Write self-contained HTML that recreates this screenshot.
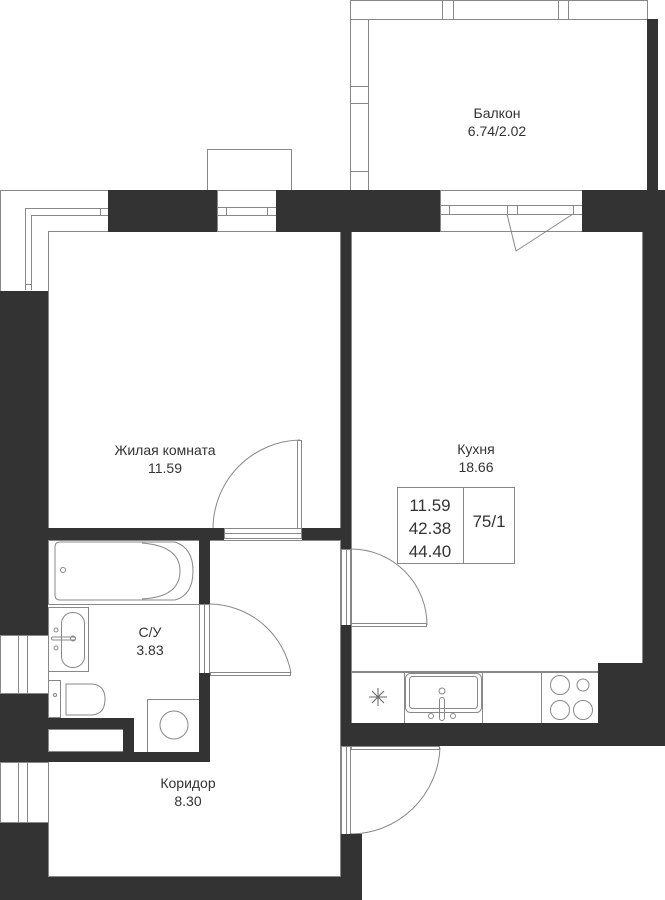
<!DOCTYPE html>
<html><head><meta charset="utf-8"><style>
html,body{margin:0;padding:0;background:#fff;}
svg{display:block;}
text{font-family:"Liberation Sans",sans-serif;fill:#333;font-size:14px;text-anchor:middle;}
text.big{font-size:17px;}
</style></head><body>
<svg width="665" height="900" viewBox="0 0 665 900" xmlns="http://www.w3.org/2000/svg">
<g fill="none" stroke="#888" stroke-width="1">
<!-- balcony -->
<rect x="350.5" y="0.5" width="297" height="190"/>
<line x1="350" y1="19.5" x2="647" y2="19.5"/>
<line x1="368.5" y1="19" x2="368.5" y2="190"/>
<line x1="442.5" y1="0" x2="442.5" y2="19"/><line x1="453.5" y1="0" x2="453.5" y2="19"/>
<line x1="558.5" y1="0" x2="558.5" y2="19"/><line x1="568.5" y1="0" x2="568.5" y2="19"/>
<line x1="350" y1="86.5" x2="368" y2="86.5"/><line x1="350" y1="103.5" x2="368" y2="103.5"/>
<line x1="350" y1="171.5" x2="368" y2="171.5"/>
<!-- small box -->
<rect x="207.5" y="149.5" width="84" height="41"/>
<!-- left L window -->
<path d="M0.5 292 V190.5 H108 M48.5 292 V231.5 H108"/>
<path d="M25.5 290 V208.5 H108 M31.5 290 V215.5 H108"/>
<line x1="25" y1="284.5" x2="31" y2="284.5"/><line x1="100.5" y1="208" x2="100.5" y2="215"/>
<!-- window top middle -->
<rect x="217.5" y="190.5" width="59" height="41"/>
<line x1="217" y1="207.5" x2="276" y2="207.5"/><line x1="217" y1="215.5" x2="276" y2="215.5"/>
<line x1="226.5" y1="207" x2="226.5" y2="215"/><line x1="267.5" y1="207" x2="267.5" y2="215"/>
<!-- kitchen window/door -->
<rect x="440.5" y="190.5" width="142" height="41"/>
<line x1="440" y1="205.5" x2="582" y2="205.5"/><line x1="440" y1="214.5" x2="582" y2="214.5"/>
<line x1="449.5" y1="205" x2="449.5" y2="214"/><line x1="507.5" y1="205" x2="507.5" y2="214"/>
<line x1="517.5" y1="205" x2="517.5" y2="214"/><line x1="573.5" y1="205" x2="573.5" y2="214"/>
<path d="M507 214 L516 251 L573 214"/>
<!-- left windows lower -->
<rect x="0.5" y="635.5" width="48" height="58"/><line x1="18.5" y1="635" x2="18.5" y2="694"/><line x1="27.5" y1="635" x2="27.5" y2="694"/>
<rect x="0.5" y="762.5" width="48" height="60"/><line x1="18.5" y1="762" x2="18.5" y2="823"/><line x1="27.5" y1="762" x2="27.5" y2="823"/>
<!-- room outlines -->
<rect x="48.5" y="231.5" width="292" height="297"/>
<rect x="351.5" y="231.5" width="291" height="440"/>
<path d="M48.5 762 V876.5 H340.5 V540"/>
<line x1="210" y1="540.5" x2="341" y2="540.5"/>
<!-- door living -->
<rect x="224.5" y="528.5" width="77" height="10"/><line x1="224" y1="533.5" x2="302" y2="533.5"/>
<rect x="297.5" y="440.5" width="4" height="88"/>
<path d="M213 528 A89 89 0 0 1 300 440"/>
<!-- bath door -->
<rect x="199.5" y="604.5" width="10" height="69"/><line x1="204.5" y1="604" x2="204.5" y2="673"/>
<rect x="210.5" y="672.5" width="80" height="3"/>
<path d="M210 604 A84 84 0 0 1 291 673"/>
<!-- kitchen door -->
<rect x="341.5" y="549.5" width="9" height="76"/><line x1="346.5" y1="549" x2="346.5" y2="625"/>
<rect x="351.5" y="623.5" width="75" height="3"/>
<path d="M351 549 A76 76 0 0 1 427 625"/>
<!-- corridor door -->
<rect x="341.5" y="746.5" width="9" height="88"/><line x1="346.5" y1="746" x2="346.5" y2="834"/>
<rect x="351.5" y="746.5" width="88" height="3"/>
<path d="M440 748 A90 90 0 0 1 351 834"/>
<!-- bathtub -->
<rect x="48.5" y="540.5" width="151" height="64"/>
<path d="M60 542 H175 Q193 548 193 571 Q193 595 175 600 H60 Q55 600 55 595 V547 Q55 542 60 542 Z"/>
<path d="M142 543 Q180 546 180 571 Q180 597 142 599"/>
<circle cx="63" cy="570" r="2.5"/>
<!-- sink bath -->
<rect x="48.5" y="607.5" width="40" height="64"/>
<rect x="61.5" y="612.5" width="23" height="55" rx="11"/>
<circle cx="56" cy="630" r="2"/><circle cx="56" cy="648" r="2"/>
<rect x="51.5" y="637" width="24" height="3" rx="1.5"/><circle cx="73" cy="638.5" r="2.5"/>
<!-- toilet -->
<rect x="48.5" y="680.5" width="12" height="37"/>
<path d="M66 684 H92 Q105 685 105 699 Q105 714 92 715 H66 Z"/>
<circle cx="55" cy="695" r="1.5"/>
<!-- washer -->
<rect x="147.5" y="699.5" width="52" height="53"/>
<circle cx="174" cy="725" r="14"/>
<rect x="48.5" y="729.5" width="75" height="22"/>
<!-- kitchen counter -->
<rect x="351.5" y="672.5" width="247" height="51"/>
<line x1="404.5" y1="672" x2="404.5" y2="723"/><line x1="482.5" y1="672" x2="482.5" y2="723"/><line x1="541.5" y1="672" x2="541.5" y2="723"/>
<rect x="405.5" y="673.5" width="76" height="39" rx="5"/>
<rect x="409.5" y="676.5" width="68" height="32" rx="3"/>
<circle cx="442" cy="691" r="3"/><rect x="439.5" y="697.5" width="5" height="23" rx="2.5"/>
<circle cx="431" cy="716" r="2.5"/><circle cx="453" cy="716" r="2.5"/>
<circle cx="560" cy="685" r="9.5"/><circle cx="583" cy="685" r="6"/>
<circle cx="560" cy="710" r="9.5"/><circle cx="583" cy="710" r="9.5"/>
<path d="M369 697 H387 M378 688 V706 M372 691 L384 703 M384 691 L372 703" stroke="#666"/>
<!-- info box -->
<rect x="397.5" y="487.5" width="117" height="76"/><line x1="463.5" y1="487" x2="463.5" y2="564"/>
</g>
<g fill="#333">
<rect x="108" y="190" width="109" height="42"/>
<rect x="276" y="190" width="164" height="42"/>
<rect x="582" y="190" width="83" height="42"/>
<rect x="647" y="19" width="11" height="172"/>
<rect x="643" y="231" width="22" height="433"/>
<rect x="598" y="663" width="67" height="83"/>
<rect x="341" y="723" width="324" height="23"/>
<rect x="341" y="231" width="10" height="318"/>
<rect x="341" y="625" width="10" height="121"/>
<rect x="341" y="834" width="21" height="66"/>
<rect x="0" y="291" width="48" height="344"/>
<rect x="0" y="694" width="48" height="68"/>
<rect x="0" y="823" width="48" height="77"/>
<rect x="0" y="877" width="362" height="23"/>
<rect x="48" y="528" width="176" height="12"/>
<rect x="302" y="528" width="39" height="12"/>
<rect x="199" y="540" width="11" height="64"/>
<rect x="199" y="673" width="11" height="89"/>
<rect x="0" y="752" width="210" height="10"/>
<rect x="48" y="718" width="86" height="11"/>
<rect x="123" y="718" width="11" height="34"/>
</g>
<text x="165" y="455">Жилая комната</text>
<text x="165" y="473">11.59</text>
<text x="497" y="118">Балкон</text>
<text x="497" y="136">6.74/2.02</text>
<text x="476" y="454">Кухня</text>
<text x="476" y="472">18.66</text>
<text x="150" y="637">С/У</text>
<text x="150" y="655">3.83</text>
<text x="188" y="788">Коридор</text>
<text x="188" y="806">8.30</text>
<text class="big" x="430" y="511">11.59</text>
<text class="big" x="430" y="534">42.38</text>
<text class="big" x="430" y="557">44.40</text>
<text class="big" x="489" y="527">75/1</text>
</svg>
</body></html>
